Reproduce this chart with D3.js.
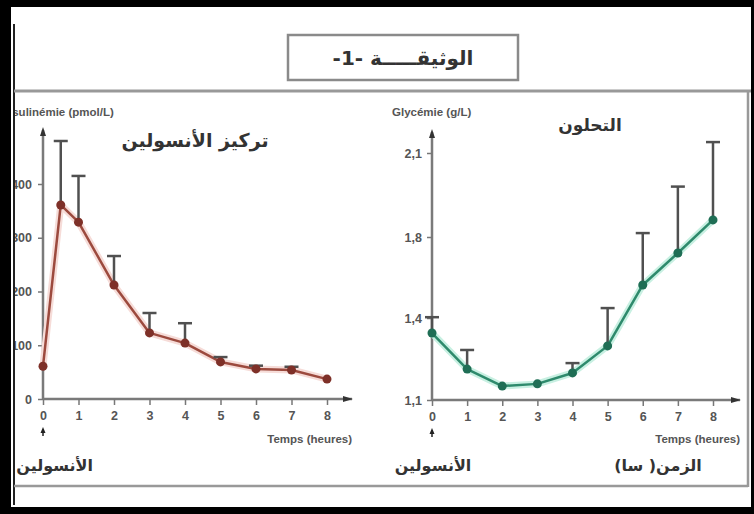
<!DOCTYPE html>
<html><head><meta charset="utf-8">
<script src="https://cdn.jsdelivr.net/npm/d3@7"></script>
<style>body{margin:0;background:#fff}svg{display:block}</style>
</head><body>
<svg id="c" width="754" height="514"></svg>
<script>
// ---- data ----
const insulinTimes = [0, 0.5, 1, 2, 3, 4, 5, 6, 7, 8];
const insulinValues = [61, 361, 329, 212, 123, 104, 69, 56, 54, 37];
const insulinErrTop = [null, 480, 415, 266, 160, 141, 78, 62, 60, null];
const insulinTicks = [0, 100, 200, 300, 400];

const glyTimes = [0, 1, 2, 3, 4, 5, 6, 7, 8];
const glyValues = [1.345, 1.213, 1.151, 1.159, 1.199, 1.298, 1.563, 1.721, 1.861];
const glyErrTop = [1.404, 1.283, null, null, 1.235, 1.449, 1.814, 1.98, 2.139];
const glyTicks = [1.1, 1.4, 1.8, 2.1];
const glyTickLabels = ["1,1", "1,4", "1,8", "2,1"];
const timeTicks = [0, 1, 2, 3, 4, 5, 6, 7, 8];

const svg = d3.select("#c");
const AR = "DejaVu Sans, sans-serif";

// frame
svg.append("rect").attr("x",0).attr("y",0).attr("width",754).attr("height",514).attr("fill","#000");
svg.append("rect").attr("x",11).attr("y",7).attr("width",740).attr("height",500).attr("fill","#fff");
svg.append("line").attr("x1",14).attr("x2",14).attr("y1",24).attr("y2",505).attr("stroke","#222").attr("stroke-width",2);
svg.append("line").attr("x1",14).attr("x2",751).attr("y1",91).attr("y2",91).attr("stroke","#999").attr("stroke-width",3);
svg.append("line").attr("x1",748).attr("x2",748).attr("y1",91).attr("y2",487).attr("stroke","#999").attr("stroke-width",2.5);
svg.append("line").attr("x1",14).attr("x2",748).attr("y1",486).attr("y2",486).attr("stroke","#999").attr("stroke-width",2.5);

// title box
svg.append("rect").attr("x",288).attr("y",35).attr("width",230).attr("height",45)
  .attr("fill","#fff").attr("stroke","#8a8a8a").attr("stroke-width",2.5);
svg.append("text").attr("x",403).attr("y",65).attr("text-anchor","middle")
  .attr("font-family",AR).attr("font-weight","bold").attr("font-size",20).attr("fill","#333")
  .attr("direction","rtl").text("الوثيقـــــة -1-");

// clip for left panel
svg.append("clipPath").attr("id","clipL").append("rect").attr("x",15).attr("y",92).attr("width",360).attr("height",393);

function axisStyle(g){
  g.selectAll(".domain").remove();
  g.selectAll(".tick line").attr("stroke","#777").attr("stroke-width",1.5);
  g.selectAll(".tick text").attr("fill","#555").attr("font-family","Liberation Sans, Arial, sans-serif")
    .attr("font-weight","bold").attr("font-size",12.5);
}

function drawPanel(opt){
  const g = svg.append("g").attr("clip-path", opt.clip || null);
  const x = opt.x, y = opt.y;
  const x0 = x(0), yb = y.range()[0];
  g.append("line").attr("x1",x0).attr("x2",x0).attr("y1",yb).attr("y2",opt.yTop).attr("stroke","#7a7a7a").attr("stroke-width",2.5);
  g.append("line").attr("x1",x0).attr("x2",opt.xEnd).attr("y1",yb).attr("y2",yb).attr("stroke","#7a7a7a").attr("stroke-width",2.5);
  g.append("path").attr("d",`M${x0-3},${opt.yTop+6}L${x0},${opt.yTop-3}L${x0+3},${opt.yTop+6}Z`).attr("fill","#333");
  g.append("path").attr("d",`M${opt.xEnd-9},${yb-3}L${opt.xEnd+1},${yb}L${opt.xEnd-9},${yb+3}Z`).attr("fill","#333");
  const ya = g.append("g").attr("transform",`translate(${x0},0)`)
    .call(d3.axisLeft(y).tickValues(opt.yTicks).tickSize(5).tickPadding(opt.yPad||5).tickFormat((d,i)=>opt.yLabels[i]));
  axisStyle(ya);
  const xa = g.append("g").attr("transform",`translate(0,${yb})`)
    .call(d3.axisBottom(x).tickValues(timeTicks).tickSize(6).tickPadding(6));
  axisStyle(xa);
  const line = d3.line().x((d,i)=>x(opt.t[i])).y(d=>y(d));
  g.append("path").datum(opt.v).attr("d",line).attr("fill","none").attr("stroke",opt.glow).attr("stroke-width",7).attr("stroke-linejoin","round");
  g.append("path").datum(opt.v).attr("d",line).attr("fill","none").attr("stroke",opt.color).attr("stroke-width",2.5).attr("stroke-linejoin","round");
  opt.t.forEach((t,i)=>{
    const e = opt.e[i]; if(e==null) return;
    const xx = x(t);
    g.append("line").attr("x1",xx).attr("x2",xx).attr("y1",y(opt.v[i])).attr("y2",y(e)).attr("stroke","#505050").attr("stroke-width",2.5);
    g.append("line").attr("x1",xx-7).attr("x2",xx+7).attr("y1",y(e)).attr("y2",y(e)).attr("stroke","#505050").attr("stroke-width",2.5);
  });
  g.selectAll(null).data(opt.v).enter().append("circle")
    .attr("cx",(d,i)=>x(opt.t[i])).attr("cy",d=>y(d)).attr("r",4.5).attr("fill",opt.marker);
  g.append("path").attr("d",`M${x0},${yb+28}L${x0-2.5},${yb+34}L${x0+2.5},${yb+34}Z`).attr("fill","#222");
  g.append("line").attr("x1",x0).attr("x2",x0).attr("y1",yb+30).attr("y2",yb+37).attr("stroke","#222").attr("stroke-width",1.5);
  return g;
}

const xL = d3.scaleLinear().domain([0,8]).range([43,327]);
const yL = d3.scaleLinear().domain([0,400]).range([399,184]);
drawPanel({x:xL,y:yL,yTop:130,xEnd:352,yTicks:insulinTicks,yLabels:insulinTicks.map(String),yPad:6,
  t:insulinTimes,v:insulinValues,e:insulinErrTop,color:"#9c4a3e",glow:"#f6dcd8",marker:"#7e3028",clip:"url(#clipL)"});

const xR = d3.scaleLinear().domain([0,8]).range([432,713]);
const yR = d3.scaleLinear().domain(glyTicks).range([400,318,237,153]);
drawPanel({x:xR,y:yR,yTop:132,xEnd:740,yTicks:glyTicks,yLabels:glyTickLabels,
  t:glyTimes,v:glyValues,e:glyErrTop,color:"#2e8a6c",glow:"#c8f0e2",marker:"#1f6e55"});

const lbl = (x,y,t,o={}) => svg.append("text").attr("x",x).attr("y",y).text(t)
  .attr("font-family",o.f||"Liberation Sans, Arial, sans-serif").attr("font-weight","bold")
  .attr("font-size",o.s||11).attr("fill",o.c||"#555").attr("text-anchor",o.a||"start")
  .attr("direction",o.d||null).attr("clip-path",o.clip||null);

lbl(2,116,"Insulinémie (pmol/L)",{clip:"url(#clipL)",s:11.5});
lbl(195,147,"تركيز الأنسولين",{f:AR,s:19,c:"#333",a:"middle",d:"rtl"});
lbl(352,443,"Temps (heures)",{a:"end",s:11.5});
lbl(93,471,"الأنسولين",{f:AR,s:16,c:"#333",a:"start",d:"rtl",clip:"url(#clipL)"});

lbl(392,116,"Glycémie (g/L)",{s:11.5});
lbl(590,131,"التحلون",{f:AR,s:17,c:"#333",a:"middle",d:"rtl"});
lbl(740,443,"Temps (heures)",{a:"end",s:11.5});
lbl(433,471,"الأنسولين",{f:AR,s:16,c:"#333",a:"middle",d:"rtl"});
lbl(658,471,"الزمن( سا)",{f:AR,s:16,c:"#333",a:"middle",d:"rtl"});
</script>
</body></html>
